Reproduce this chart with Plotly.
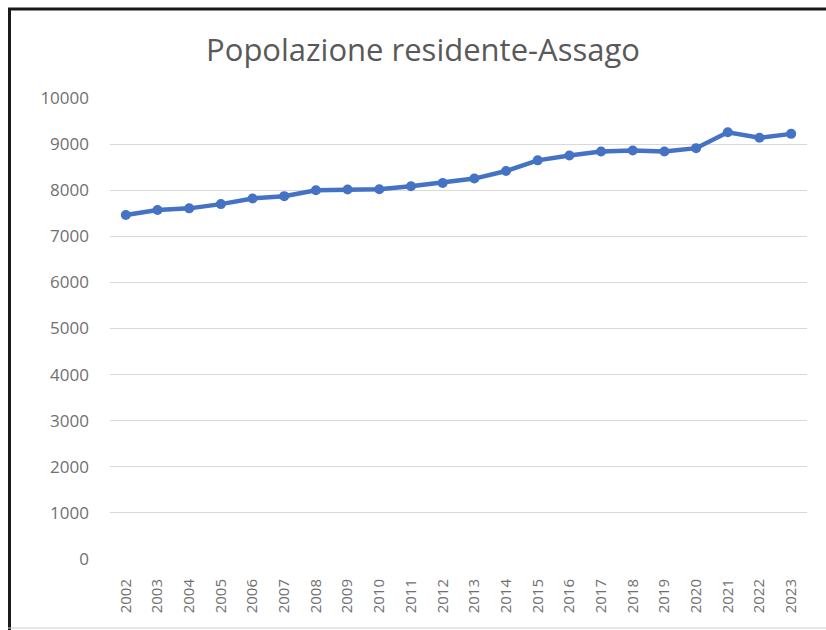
import plotly.graph_objects as go

years = [str(y) for y in range(2002, 2024)]
population = [7461, 7569, 7606, 7698, 7821, 7871, 8000, 8015, 8022, 8086, 8157,
              8252, 8416, 8647, 8754, 8840, 8862, 8840, 8912, 9256, 9136, 9222]
y_ticks = [0, 1000, 2000, 3000, 4000, 5000, 6000, 7000, 8000, 9000, 10000]
y_tick_labels = [str(v) for v in y_ticks]
title_text = "Popolazione residente-Assago"

W, H = 826, 630
L, R, T, B = 110, 19, 98, 71
pw, ph = W - L - R, H - T - B

def px(x):
    return (x - L) / pw

def py(y):
    return (H - B - y) / ph

fig = go.Figure()
fig.add_trace(go.Scatter(
    x=years, y=population, mode="lines+markers",
    line=dict(color="#4472C4", width=4.5),
    marker=dict(color="#4472C4", size=10),
    showlegend=False,
))

fig.update_layout(
    width=W, height=H,
    margin=dict(l=L, r=R, t=T, b=B, autoexpand=False),
    paper_bgcolor="white", plot_bgcolor="white",
    font=dict(family="Open Sans", color="#595959"),
    title=dict(text=title_text, x=423 / W, xanchor="center",
               y=1 - 50 / H, yanchor="middle",
               font=dict(size=31, color="#595959", family="Open Sans")),
    xaxis=dict(type="category", range=[-0.5, len(years) - 0.5], tickangle=-90,
               showgrid=False, showline=False,
               automargin=False, ticks="", tickfont=dict(size=15, color="#707070"),
               ticklabelstandoff=16),
    yaxis=dict(range=[0, 10000], tickvals=y_ticks, ticktext=y_tick_labels,
               showgrid=True, automargin=False,
               gridcolor="#d9d9d9", gridwidth=1, zeroline=False, showline=False,
               ticks="", tickfont=dict(size=17, color="#707070"), ticklabelstandoff=20),
    shapes=[
        dict(type="line", xref="paper", yref="paper", x0=px(9.5), x1=px(9.5),
             y0=py(8), y1=py(630), line=dict(color="#1a1a1a", width=3)),
        dict(type="line", xref="paper", yref="paper", x0=px(8), x1=px(826),
             y0=py(9), y1=py(9), line=dict(color="#1a1a1a", width=3)),
        dict(type="line", xref="paper", yref="paper", x0=px(8), x1=px(826),
             y0=py(628), y1=py(628), line=dict(color="#d0d0d0", width=1)),
    ],
)

fig.write_html("out.html", config={"displayModeBar": False},
               post_script="document.body.style.margin='0';")
